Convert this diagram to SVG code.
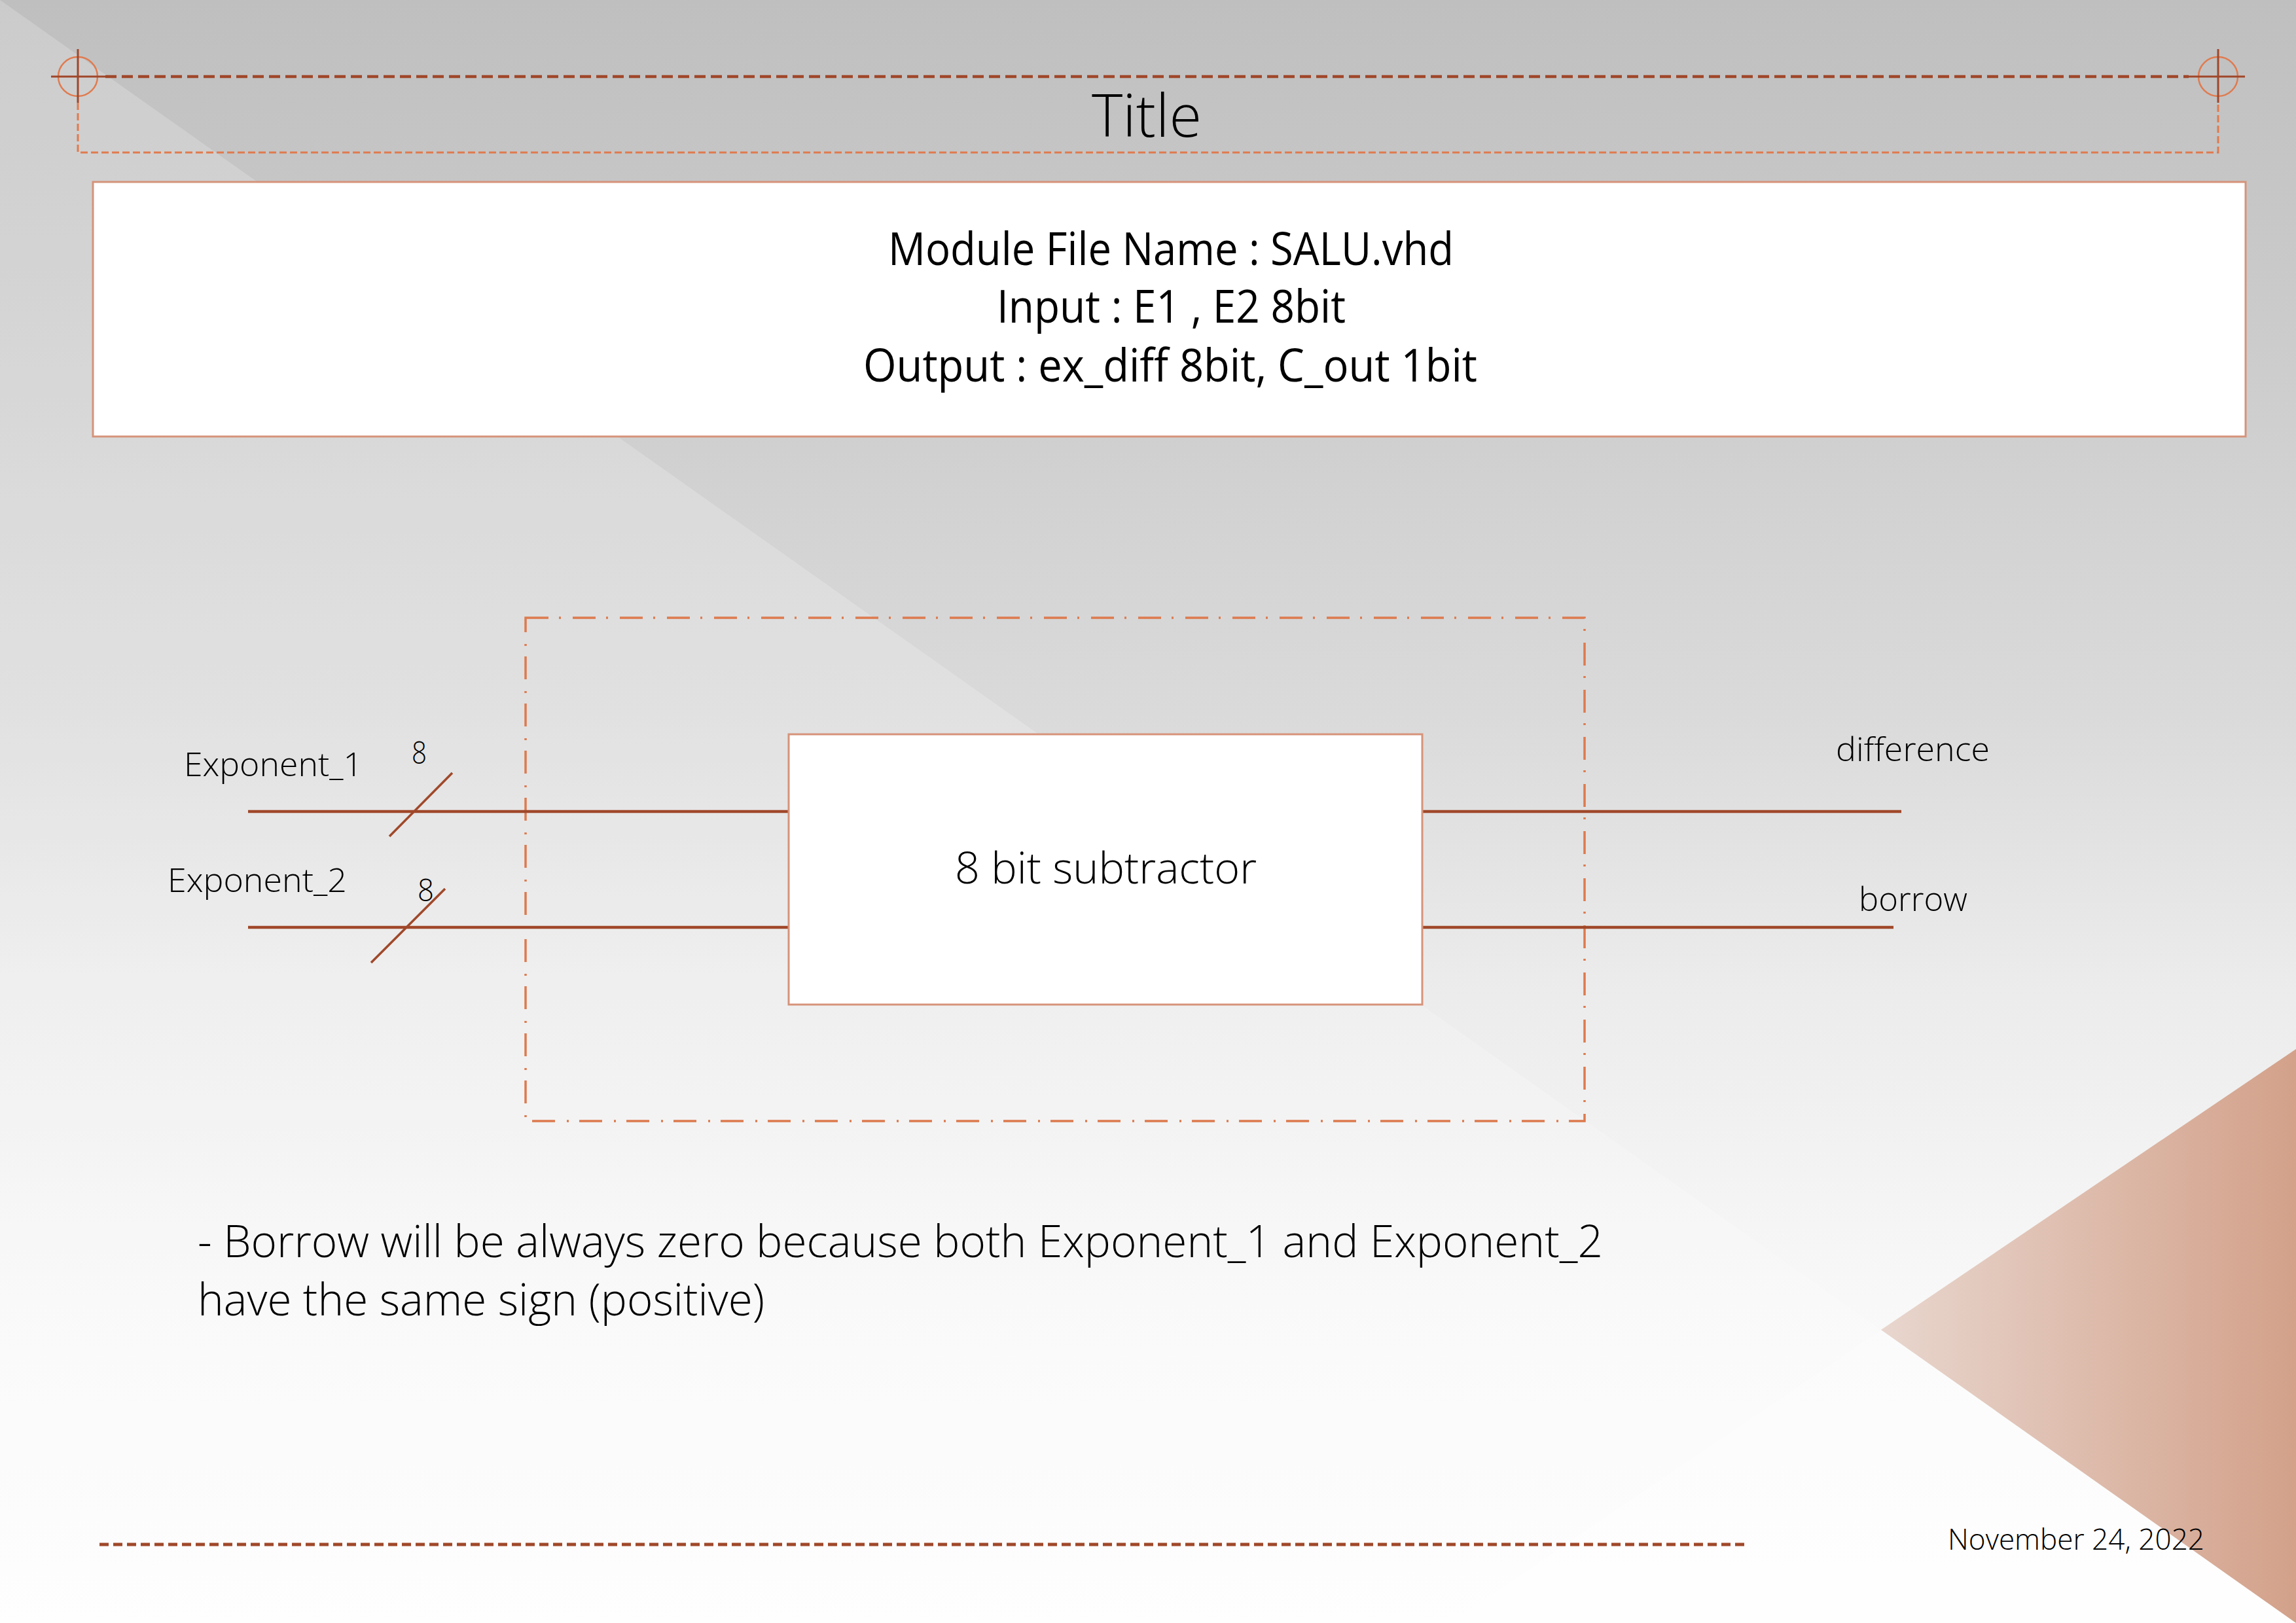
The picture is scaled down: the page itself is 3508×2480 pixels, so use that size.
<svg xmlns="http://www.w3.org/2000/svg" width="3508" height="2480" viewBox="0 0 3508 2480">
  <defs>
    <linearGradient id="bg" x1="0" y1="0" x2="0" y2="1">
      <stop offset="0" stop-color="#bfbfbf"/>
      <stop offset="0.44" stop-color="#dadada"/>
      <stop offset="0.6" stop-color="#ebebeb"/>
      <stop offset="0.8" stop-color="#f8f8f8"/>
      <stop offset="1" stop-color="#fefefe"/>
    </linearGradient>
    <linearGradient id="accent" x1="2874" y1="0" x2="3508" y2="0" gradientUnits="userSpaceOnUse">
      <stop offset="0" stop-color="#e8d6ce"/>
      <stop offset="1" stop-color="#d3a18a"/>
    </linearGradient>
    <style>
      .txt { font-family: "Open Sans", "Noto Sans", "Liberation Sans", sans-serif; fill: #000000; }
      .light { font-weight: 300; }
      .wire { stroke: #a0482a; stroke-width: 4.5; fill: none; }
      .slash { stroke: #a0482a; stroke-width: 3.5; fill: none; }
      .box { fill: #ffffff; stroke: #d6937a; stroke-width: 3; }
      .cross { stroke: #a0472a; stroke-width: 3; fill: none; }
      .ring { stroke: #e07b4f; stroke-width: 2.5; fill: none; }
    </style>
  </defs>

  <!-- background -->
  <rect x="0" y="0" width="3508" height="2480" fill="url(#bg)"/>
  <polygon points="0,0 2874,2032 2215,2480 0,2480" fill="#ffffff" fill-opacity="0.2"/>
  <polygon points="2874,2032 2215,2480 3508,2480" fill="#ffffff" fill-opacity="0.35"/>
  <polygon points="2874,2032 3508,1603 3508,2480" fill="url(#accent)"/>

  <!-- header / title frame -->
  <g id="title-frame">
    <path d="M119,157 V233 H3389 V157" fill="none" stroke="#e07b4f" stroke-width="3" stroke-dasharray="11 5"/>
    <line x1="161" y1="117" x2="3344" y2="117" stroke="#a0472a" stroke-width="4.5" stroke-dasharray="17 8"/>
    <circle class="ring" cx="119" cy="117" r="30"/>
    <line class="cross" x1="119" y1="75" x2="119" y2="157"/>
    <line class="cross" x1="78" y1="117" x2="161" y2="117" stroke-width="4.5"/>
    <circle class="ring" cx="3389" cy="117" r="30"/>
    <line class="cross" x1="3389" y1="75" x2="3389" y2="157"/>
    <line class="cross" x1="3344" y1="117" x2="3430" y2="117" stroke-width="4.5"/>
    <text class="txt light" x="1668" y="209" font-size="90" textLength="168" lengthAdjust="spacingAndGlyphs">Title</text>
  </g>

  <!-- info box -->
  <g id="info-box">
    <rect class="box" x="142" y="278" width="3289" height="389"/>
    <text class="txt" x="1357" y="405" font-size="70" textLength="864" lengthAdjust="spacingAndGlyphs">Module File Name : SALU.vhd</text>
    <text class="txt" x="1523" y="493" font-size="70" textLength="533" lengthAdjust="spacingAndGlyphs">Input : E1 , E2 8bit</text>
    <text class="txt" x="1319" y="583" font-size="70" textLength="938" lengthAdjust="spacingAndGlyphs">Output : ex_diff 8bit, C_out 1bit</text>
  </g>

  <!-- module boundary -->
  <g id="boundary">
    <rect x="803" y="944" width="1618" height="769" fill="none" stroke="#dd7a4e" stroke-width="3.5" stroke-dasharray="35 16 3 18"/>
  </g>

  <!-- connectors -->
  <g id="connectors">
    <line class="wire" x1="379" y1="1240" x2="1205" y2="1240"/>
    <line class="wire" x1="379" y1="1417" x2="1205" y2="1417"/>
    <line class="slash" x1="595" y1="1278" x2="691" y2="1181"/>
    <line class="slash" x1="567" y1="1471" x2="680" y2="1358"/>
    <line class="wire" x1="2173" y1="1240" x2="2905" y2="1240"/>
    <line class="wire" x1="2173" y1="1417" x2="2893" y2="1417"/>
  </g>

  <!-- subtractor node -->
  <g id="subtractor">
    <rect class="box" x="1205" y="1122" width="968" height="413"/>
    <text class="txt light" x="1459" y="1350" font-size="66" textLength="461" lengthAdjust="spacingAndGlyphs">8 bit subtractor</text>
  </g>

  <!-- port labels -->
  <g id="input-exponent-1">
    <text class="txt light" x="281" y="1186" font-size="50" textLength="273" lengthAdjust="spacingAndGlyphs">Exponent_1</text>
    <text class="txt light" x="629" y="1167" font-size="48" textLength="23" lengthAdjust="spacingAndGlyphs">8</text>
  </g>
  <g id="input-exponent-2">
    <text class="txt light" x="256" y="1363" font-size="50" textLength="274" lengthAdjust="spacingAndGlyphs">Exponent_2</text>
    <text class="txt light" x="638" y="1377" font-size="48" textLength="25" lengthAdjust="spacingAndGlyphs">8</text>
  </g>
  <g id="output-difference">
    <text class="txt light" x="2805" y="1163" font-size="50" textLength="235" lengthAdjust="spacingAndGlyphs">difference</text>
  </g>
  <g id="output-borrow">
    <text class="txt light" x="2840" y="1392" font-size="50" textLength="166" lengthAdjust="spacingAndGlyphs">borrow</text>
  </g>

  <!-- note -->
  <g id="note">
    <text class="txt light" x="302" y="1921" font-size="68" textLength="2147" lengthAdjust="spacingAndGlyphs">- Borrow will be always zero because both Exponent_1 and Exponent_2</text>
    <text class="txt light" x="302" y="2010" font-size="68" textLength="866" lengthAdjust="spacingAndGlyphs">have the same sign (positive)</text>
  </g>

  <!-- footer -->
  <g id="footer">
    <line x1="152" y1="2360" x2="2667" y2="2360" stroke="#a0482a" stroke-width="5" stroke-dasharray="14 7"/>
    <text class="txt light" x="2976" y="2368" font-size="45" textLength="392" lengthAdjust="spacingAndGlyphs">November 24, 2022</text>
  </g>
</svg>
